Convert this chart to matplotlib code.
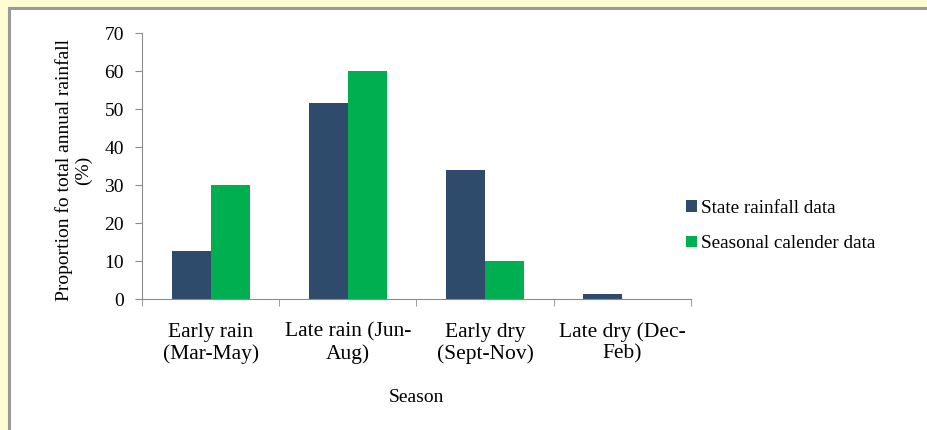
"""Share of annual rainfall by season: state records vs seasonal calendar."""
import numpy as np
import matplotlib.pyplot as plt
from matplotlib.patches import Rectangle


# Data
SEASONS: list[str] = ["Early rain\n(Mar-May)", "Late rain (Jun-\nAug)",
                      "Early dry\n(Sept-Nov)", "Late dry (Dec-\nFeb)"]
STATE_RAINFALL: list[float] = [12.7, 51.6, 34.0, 1.3]
SEASONAL_CALENDER: list[float] = [30.0, 60.0, 10.0, 0.0]
Y_TICKS: list[int] = [0, 10, 20, 30, 40, 50, 60, 70]

BLUE = "#2E4B6C"
GREEN = "#00B050"
AXIS_GRAY = "#8C8C8C"

plt.rcParams["font.family"] = ["Liberation Serif", "DejaVu Serif"]

fig = plt.figure(figsize=(9.28, 4.30), dpi=100)
fig.patch.set_facecolor("#FFFBD2")

# White panel with a gray edge (top/left visible, runs off the bottom-right)
W, H = 928, 430
fig.patches.append(Rectangle((9 / W, -0.05), 1.0, 1 - 8 / H + 0.05,
                             transform=fig.transFigure, facecolor="white",
                             edgecolor="#9A9A9A", linewidth=2.2, zorder=-5))

ax = fig.add_axes([142 / W, 1 - 299 / H, (691 - 142) / W, (299 - 33) / H])
ax.set_facecolor("none")

x = np.arange(len(SEASONS))
width = 0.285
ax.bar(x - width / 2, STATE_RAINFALL, width, color=BLUE, label="State rainfall data")
ax.bar(x + width / 2, SEASONAL_CALENDER, width, color=GREEN, label="Seasonal calender data")

ax.set_xlim(-0.5, len(SEASONS) - 0.5)
ax.set_ylim(0, 70)
ax.set_yticks(Y_TICKS)
ax.tick_params(axis="y", length=5, color=AXIS_GRAY, labelsize=14, pad=8)

# Category labels at the centres, tick marks on the boundaries
ax.set_xticks(x)
ax.set_xticklabels(SEASONS, fontsize=15.5, linespacing=1.15)
ax.tick_params(axis="x", which="major", length=0, pad=17)
ax.set_xticks(np.arange(len(SEASONS) + 1) - 0.5, minor=True)
ax.tick_params(axis="x", which="minor", length=5, color=AXIS_GRAY)

for side in ("top", "right"):
    ax.spines[side].set_visible(False)
for side in ("left", "bottom"):
    ax.spines[side].set_color(AXIS_GRAY)

ax.set_xlabel("Season", fontsize=14, labelpad=18)
fig.text(73.5 / W, 1 - 170 / H, "Proportion fo total annual rainfall\n(%)",
         rotation=90, ha="center", va="center", fontsize=14, linespacing=1.15)

ax.legend(loc="center left", bbox_to_anchor=(686 / W, 1 - 226 / H),
          bbox_transform=fig.transFigure, frameon=False, fontsize=13.8,
          handlelength=0.55, handleheight=0.55, handletextpad=0.25,
          labelspacing=0.95, borderaxespad=0, borderpad=0)

fig.savefig("out.png", dpi=100, facecolor=fig.get_facecolor())
